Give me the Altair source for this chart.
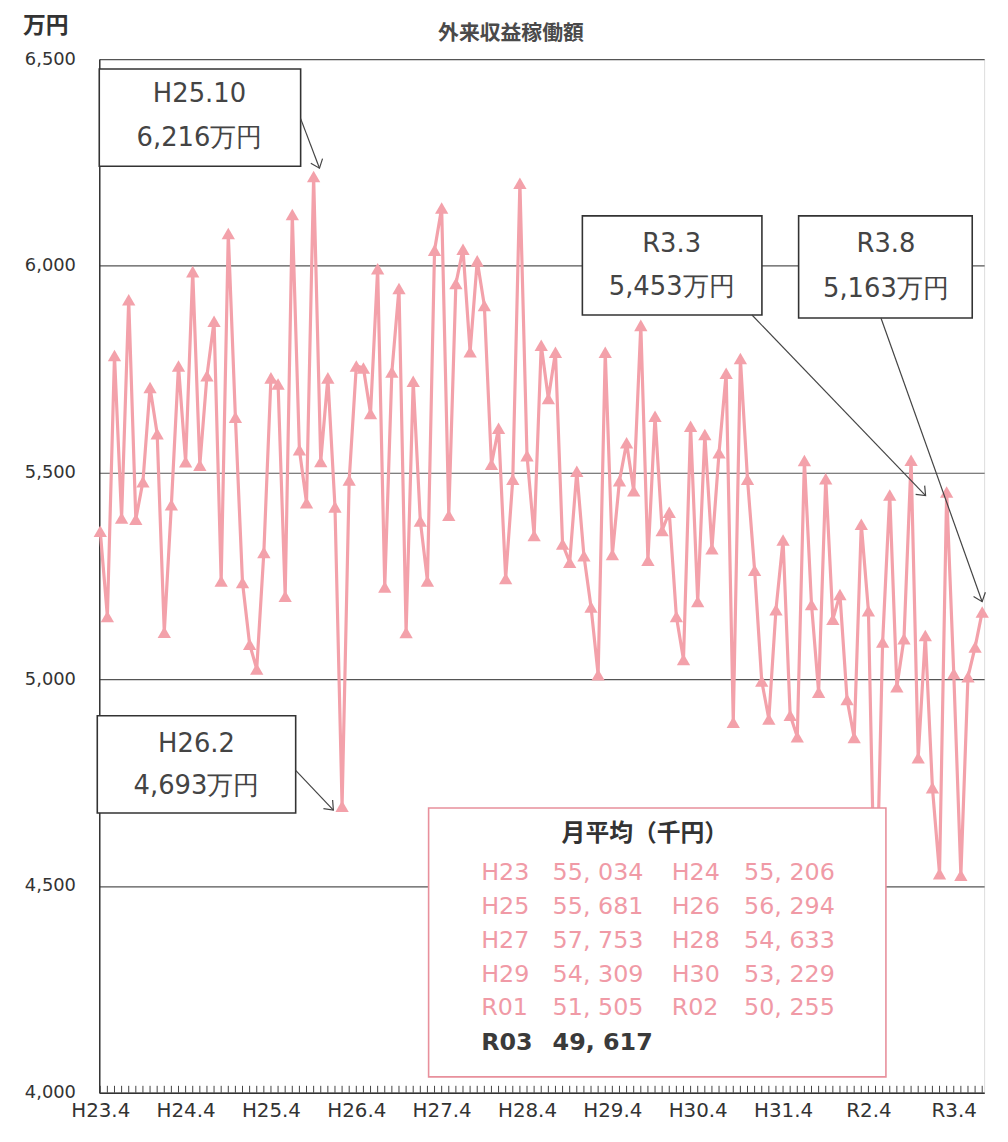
import altair as alt
import pandas as pd

# ---- data (万円), monthly from H23.4 (index 0) to R3.8 (index 124) ----
fy_h23 = [5358, 5152, 5783, 5390, 5918, 5387, 5478, 5706, 5594, 5114, 5422, 5758]
fy_h24 = [5526, 5986, 5518, 5734, 5866, 5238, 6078, 5634, 5234, 5085, 5025, 5307]
fy_h25 = [5729, 5714, 5201, 6124, 5555, 5427, 6216, 5527, 5729, 5417, 4693, 5482]
fy_h26 = [5758, 5753, 5643, 5993, 5223, 5743, 5945, 5113, 5721, 5383, 5238, 6038]
fy_h27 = [6140, 5397, 5957, 6040, 5792, 6012, 5904, 5520, 5607, 5244, 5484, 6200]
fy_h28 = [5541, 5348, 5808, 5679, 5791, 5327, 5283, 5503, 5299, 5175, 5011, 5791]
fy_h29 = [5302, 5480, 5572, 5456, 5856, 5288, 5636, 5360, 5404, 5152, 5048, 5612]
fy_h30 = [5188, 5592, 5316, 5548, 5740, 4896, 5776, 5484, 5264, 4996, 4904, 5168]
fy_r01 = [5337, 4913, 4861, 5529, 5181, 4969, 5485, 5145, 5205, 4951, 4859, 5375]
fy_r02 = [5166, 4357, 5090, 5446, 4982, 5098, 5530, 4810, 5106, 4738, 4530, 5453]
fy_r03 = [5014, 4526, 5006, 5078, 5163]

values = fy_h23 + fy_h24 + fy_h25 + fy_h26 + fy_h27 + fy_h28 + fy_h29 + fy_h30 + fy_r01 + fy_r02 + fy_r03
month_index = list(range(len(values)))
april_labels = ["H23.4", "H24.4", "H25.4", "H26.4", "H27.4", "H28.4",
                "H29.4", "H30.4", "H31.4", "R2.4", "R3.4"]

avg_labels = ["H23", "H24", "H25", "H26", "H27", "H28", "H29", "H30", "R01", "R02", "R03"]
avg_values = ["55, 034", "55, 206", "55, 681", "56, 294", "57, 753", "54, 633",
              "54, 309", "53, 229", "51, 505", "50, 255", "49, 617"]

callouts = [("H25.10", "6,216万円"), ("H26.2", "4,693万円"), ("R3.3", "5,453万円"), ("R3.8", "5,163万円")]

df = pd.DataFrame({"idx": month_index, "value": values})

W, H = 892, 1042
PINK = "#f3a1aa"
FONT_AX = "DejaVu Sans"
FONT_JP = "Noto Sans CJK JP"

label_arr = "[" + ",".join("'%s'" % s for s in april_labels) + "]"

x_scale = alt.Scale(domain=[-0.14, 124.27], nice=False, zero=False)
y_scale = alt.Scale(domain=[4000, 6500], nice=False, zero=False)

base = alt.Chart(df).encode(
    x=alt.X("idx:Q", scale=x_scale,
            axis=alt.Axis(values=list(range(0, 121, 12)), labelExpr=label_arr + "[round(datum.value/12)]",
                          title=None, grid=False, ticks=False, domainColor="#333", domainWidth=1.5,
                          labelFont=FONT_AX, labelFontSize=20, labelColor="#333", labelPadding=8)),
    y=alt.Y("value:Q", scale=y_scale,
            axis=alt.Axis(values=[4000, 4500, 5000, 5500, 6000, 6500],
                          labelExpr="format(datum.value, ',d')", title=None,
                          grid=True, gridColor="#555", gridWidth=1.2, ticks=False,
                          domainColor="#333", domainWidth=1.5,
                          labelFont=FONT_AX, labelFontSize=18, labelColor="#333", labelPadding=24)),
)

ticks = alt.Chart(df).mark_rule(color="#444", strokeWidth=1).encode(
    x=alt.X("idx:Q", scale=x_scale), y=alt.value(H - 7), y2=alt.value(H))

line = base.mark_line(color=PINK, strokeWidth=3.2)
pts = base.mark_point(shape="triangle-up", filled=True, size=180, color=PINK, opacity=1)

one = pd.DataFrame({"a": [0]})
layers = [ticks, line, pts]

# callout boxes: (x1, x2, y1, y2, text cx, line1 y, line2 y, arrow x1, y1, x2, y2, angle)
boxes = [
    (0, 203, 10, 108, 101, 35, 80, 203, 60, 222, 110, 69),
    (-2, 198, 662, 760, 98, 690, 733, 198, 717, 236, 757, 47),
    (487, 668, 158, 258, 577, 186, 230, 658, 258, 833, 440, 46),
    (705, 880, 158, 261, 793, 186, 232, 788, 261, 890, 547, 70),
]
for (t1, t2), b in zip(callouts, boxes):
    x1, x2, y1, y2, cx, ty1, ty2, ax1, ay1, ax2, ay2, ang = b
    layers.append(alt.Chart(one).mark_rect(fill="white", stroke="#333", strokeWidth=1.6).encode(
        x=alt.value(x1), x2=alt.value(x2), y=alt.value(y1), y2=alt.value(y2)))
    layers.append(alt.Chart(one).mark_text(font=FONT_AX, fontSize=26, color="#444", align="center",
                                           baseline="middle", text=t1).encode(
        x=alt.value(cx), y=alt.value(ty1)))
    layers.append(alt.Chart(one).mark_text(font=FONT_AX, fontSize=26, color="#444", align="center",
                                           baseline="middle", text=t2).encode(
        x=alt.value(cx), y=alt.value(ty2)))
    layers.append(alt.Chart(one).mark_rule(color="#444", strokeWidth=1.2).encode(
        x=alt.value(ax1), y=alt.value(ay1), x2=alt.value(ax2), y2=alt.value(ay2)))
    layers.append(alt.Chart(one).mark_point(shape="M-1,-0.8L0,0L-1,0.8", filled=False, stroke="#444",
                                            strokeWidth=1.2, size=250, angle=ang, opacity=1).encode(
        x=alt.value(ax2), y=alt.value(ay2)))

# monthly average box
layers.append(alt.Chart(one).mark_rect(fill="white", stroke="#e8909c", strokeWidth=1.6).encode(
    x=alt.value(332), x2=alt.value(793), y=alt.value(755), y2=alt.value(1026)))
layers.append(alt.Chart(one).mark_text(font=FONT_JP, fontSize=24, fontWeight="bold", color="#333",
                                       align="center", baseline="middle", text="月平均（千円）").encode(
    x=alt.value(550), y=alt.value(781)))
row_y = [821, 855, 889, 923, 957, 992]
for i, (lab, val) in enumerate(zip(avg_labels, avg_values)):
    r, c = divmod(i, 2)
    last = (i == len(avg_labels) - 1)
    col = "#3a3a3a" if last else "#f09aa6"
    wt = "bold" if last else "normal"
    lx = 385 if c == 0 else 577
    vx = 457 if c == 0 else 650
    layers.append(alt.Chart(one).mark_text(font=FONT_AX, fontSize=24, color=col, fontWeight=wt,
                                           align="left", baseline="middle", text=lab).encode(
        x=alt.value(lx), y=alt.value(row_y[r])))
    layers.append(alt.Chart(one).mark_text(font=FONT_AX, fontSize=24, color=col, fontWeight=wt,
                                           align="left", baseline="middle", text=val).encode(
        x=alt.value(vx), y=alt.value(row_y[r])))

# titles
layers.append(alt.Chart(one).mark_text(font=FONT_JP, fontSize=23, fontWeight="bold", color="#333",
                                       align="center", baseline="middle", text="万円").encode(
    x=alt.value(-54), y=alt.value(-33)))
layers.append(alt.Chart(one).mark_text(font=FONT_JP, fontSize=21, fontWeight="bold", color="#4a4a4a",
                                       align="center", baseline="middle", text="外来収益稼働額").encode(
    x=alt.value(415), y=alt.value(-25)))

chart = alt.layer(*layers).properties(
    width=W, height=H,
    padding={"left": 92, "top": 47, "right": 16, "bottom": 30},
    autosize=alt.AutoSizeParams(type="none"),
).configure_view(stroke="#b4c0cf", strokeWidth=1.5).configure(background="white")

chart.save("out.html", embed_options={"renderer": "svg", "actions": False})
